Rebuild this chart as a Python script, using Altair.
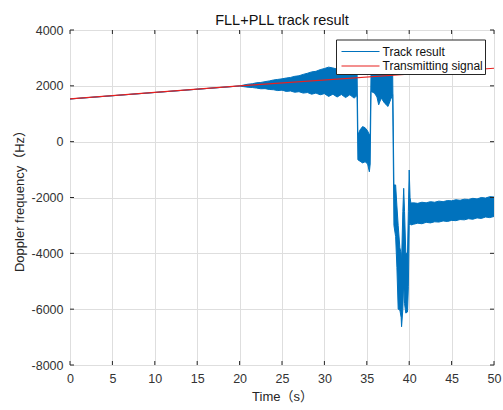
import altair as alt
import pandas as pd

FONT = "Liberation Sans, Arial, Noto Sans CJK SC, sans-serif"

time_ticks = [0, 5, 10, 15, 20, 25, 30, 35, 40, 45, 50]
freq_ticks = [-8000, -6000, -4000, -2000, 0, 2000, 4000]

series_names = ["Track result", "Transmitting signal"]
series_colors = ["#0072BD", "#E8201E"]

# Transmitting signal (red)
signal_t = [0, 20, 50]
signal_hz = [1530, 1995, 2630]

# Track result: envelope of the noisy tracked Doppler
track_t = [0, 20.0, 20.5, 21.0, 21.5, 22.0, 22.5, 23.0, 23.5, 24.0, 24.5, 25.0, 25.5,
           26.0, 26.5, 27.0, 27.5, 28.0, 28.5, 29.0, 29.5, 30.0, 30.5, 31.0, 31.5,
           32.0, 32.5, 33.0, 33.5, 33.85,
           33.95, 34.2, 34.5, 34.8, 35.1, 35.3, 35.4,
           35.5, 35.9, 36.2, 36.4, 36.7, 37.1, 37.5, 37.8, 38.05,
           38.2, 38.4, 38.55, 38.7, 38.9, 39.05, 39.1, 39.25, 39.35, 39.45, 39.6, 39.8,
           39.9, 40.0, 40.1, 40.2,
           40.5, 41.0, 41.5, 42.0, 42.5, 43.0, 43.5, 44.0, 44.5, 45.0, 45.5, 46.0,
           46.5, 47.0, 47.5, 48.0, 48.5, 49.0, 49.5, 50.0]
track_top = [1530, 1995, 2030, 2060, 2075, 2110, 2120, 2150, 2175, 2210, 2230, 2250, 2280,
             2300, 2340, 2360, 2410, 2450, 2500, 2520, 2580, 2620, 2670, 2640, 2600,
             2680, 2640, 2620, 2590, 2560,
             250, 420, 540, 500, 380, 250, 300,
             2450, 2450, 2450, 2450, 2450, 2450, 2450, 2450, 2450,
             -1550, -1550, -2300, -3000, -3800, -4000, -4300, -2500, -1670, -2500, -4000, -3990,
             -2500, -1015, -2000, -2200,
             -2190, -2210, -2170, -2190, -2150, -2170, -2130, -2150, -2110, -2120, -2080, -2100,
             -2060, -2070, -2030, -2050, -2000, -2020, -1970, -1980]
track_bottom = [1530, 1995, 1970, 1950, 1940, 1920, 1895, 1900, 1870, 1860, 1830, 1845, 1800,
                1815, 1770, 1790, 1740, 1760, 1700, 1740, 1680, 1720, 1620, 1700, 1600,
                1690, 1580, 1680, 1560, 1650,
                -650, -700, -760, -720, -800, -1080, -800,
                1800, 1740, 1600, 1320, 1560, 1380, 1260, 1500, 1680,
                -3000, -3400, -4500, -6000, -6030, -6300, -6630, -6000, -5000, -5800, -6140, -6100,
                -5200, -3000, -2900, -2985,
                -2960, -2920, -2940, -2890, -2910, -2870, -2880, -2840, -2860, -2820, -2830, -2790,
                -2800, -2760, -2780, -2730, -2750, -2700, -2720, -2680]

track = pd.DataFrame({"t": track_t, "top": track_top, "bottom": track_bottom})
signal = pd.DataFrame({"t": signal_t, "hz": signal_hz})
xticks_df = pd.DataFrame({"t": time_ticks})
yticks_df = pd.DataFrame({"hz": freq_ticks})

W, H = 424, 335

x_scale = alt.Scale(domain=[0, 50], nice=False, zero=False)
y_scale = alt.Scale(domain=[-8000, 4000], nice=False, zero=False)

x_axis = alt.Axis(values=time_ticks, title="Time（s）", grid=True, gridColor="#dedede",
                  domain=False, ticks=False, labelPadding=7, labelFontSize=12.5,
                  labelColor="#333333", labelFont=FONT, titleFont=FONT, titleFontSize=13,
                  titleFontWeight="normal", titleColor="#262626", titlePadding=6,
                  labelFlush=False)
y_axis = alt.Axis(values=freq_ticks, title="Doppler frequency（Hz）", grid=True,
                  gridColor="#dedede", domain=False, ticks=False, labelPadding=7,
                  labelFontSize=12.5, labelColor="#333333", labelFont=FONT,
                  labelExpr="'' + datum.value", titleFont=FONT, titleFontSize=13,
                  titleFontWeight="normal", titleColor="#262626", titlePadding=5,
                  labelFlush=False)

x_enc = alt.X("t:Q", scale=x_scale, axis=x_axis)

area = alt.Chart(track).mark_area(color=series_colors[0], opacity=1).encode(
    x=x_enc,
    y=alt.Y("top:Q", scale=y_scale, axis=y_axis),
    y2="bottom:Q",
)
top_line = alt.Chart(track).mark_line(strokeWidth=1, color=series_colors[0]).encode(
    x=x_enc, y=alt.Y("top:Q", scale=y_scale, axis=y_axis))
bottom_line = alt.Chart(track).mark_line(strokeWidth=1, color=series_colors[0]).encode(
    x=x_enc, y=alt.Y("bottom:Q", scale=y_scale, axis=y_axis))
sig_line = alt.Chart(signal).mark_line(strokeWidth=1.2, color=series_colors[1]).encode(
    x=x_enc, y=alt.Y("hz:Q", scale=y_scale, axis=y_axis))

tick_color = "#262626"
bottom_ticks = alt.Chart(xticks_df).mark_rule(color=tick_color).encode(
    x=x_enc, y=alt.value(H), y2=alt.value(H - 4))
top_ticks = alt.Chart(xticks_df).mark_rule(color=tick_color).encode(
    x=x_enc, y=alt.value(0), y2=alt.value(4))
left_ticks = alt.Chart(yticks_df).mark_rule(color=tick_color).encode(
    y=alt.Y("hz:Q", scale=y_scale, axis=y_axis), x=alt.value(0), x2=alt.value(4))
right_ticks = alt.Chart(yticks_df).mark_rule(color=tick_color).encode(
    y=alt.Y("hz:Q", scale=y_scale, axis=y_axis), x=alt.value(W), x2=alt.value(W - 4))

# Legend box (MATLAB style, top-right inside the axes)
legend_df = pd.DataFrame({"series": series_names, "color": series_colors})
legend_box = alt.Chart(legend_df.head(1)).mark_rect(
    fill="white", stroke="#262626", strokeWidth=1).encode(
    x=alt.value(266.5), x2=alt.value(415.5), y=alt.value(10), y2=alt.value(44.5))
legend_layers = [legend_box]
row_y = [21.5, 36]
for i in range(len(series_names)):
    row = legend_df.iloc[[i]]
    legend_layers.append(
        alt.Chart(row).mark_rule(color=series_colors[i], strokeWidth=1.2).encode(
            x=alt.value(271.5), x2=alt.value(309.5), y=alt.value(row_y[i])))
    legend_layers.append(
        alt.Chart(row).mark_text(align="left", baseline="middle", font=FONT,
                                 fontSize=12, color="#111111").encode(
            x=alt.value(312.5), y=alt.value(row_y[i]), text="series:N"))

chart = alt.layer(
    area, top_line, bottom_line, sig_line,
    bottom_ticks, top_ticks, left_ticks, right_ticks,
    *legend_layers,
).properties(
    width=W, height=H,
    autosize=alt.AutoSizeParams(type="none"),
    padding={"left": 70, "top": 30, "right": 9, "bottom": 45},
    title=alt.TitleParams("FLL+PLL track result", font=FONT, fontSize=14.5,
                          fontWeight="normal", color="#111111", offset=6, dy=10,
                          anchor="middle", frame="group"),
).configure_view(
    stroke="#262626", strokeWidth=1
).configure(background="white")

chart.save("out.html", embed_options={"renderer": "svg", "actions": False})
